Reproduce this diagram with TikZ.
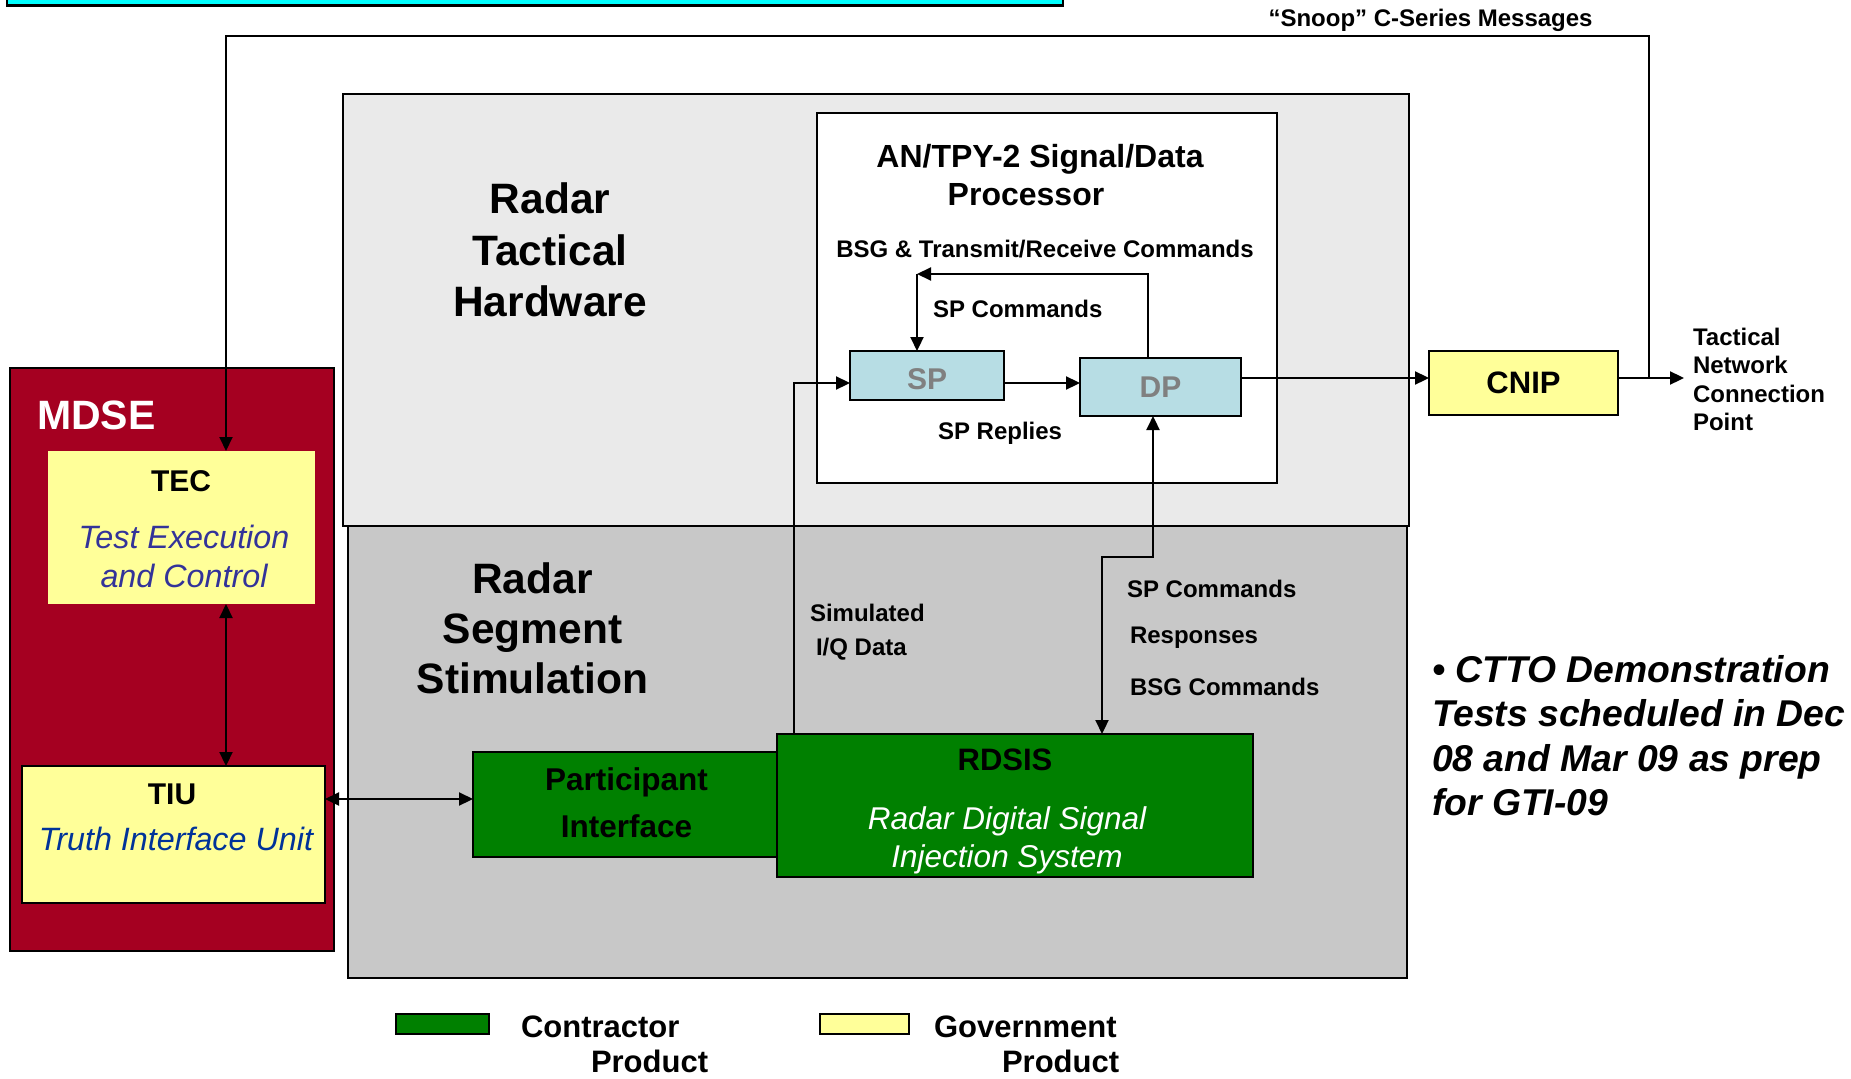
\documentclass[tikz,border=0pt]{standalone}
\usepackage{fontspec}
\setmainfont{Liberation Sans}
\usetikzlibrary{arrows.meta}
\definecolor{mdsered}{RGB}{165,0,33}
\definecolor{govyel}{RGB}{255,255,153}
\definecolor{congreen}{RGB}{0,128,0}
\definecolor{spblue}{RGB}{183,221,228}
\definecolor{hwgray}{RGB}{234,234,234}
\definecolor{hatchgray}{RGB}{200,200,200}
\definecolor{tecblue}{RGB}{51,51,153}
\definecolor{tiublue}{RGB}{0,51,153}
\definecolor{spgray}{RGB}{128,128,128}
\definecolor{barcyan}{RGB}{0,255,255}
\newcommand\fsz[2]{\fontsize{#1}{#2}\selectfont}
\begin{document}
\begin{tikzpicture}[x=1pt,y=-1pt,
  box/.style={draw=black, line width=2.2pt, inner sep=0pt, outer sep=0pt, anchor=north west},
  nobox/.style={inner sep=0pt, outer sep=0pt, anchor=north west},
  txt/.style={inner sep=0pt, outer sep=0pt},
  lbl/.style={txt, font=\fsz{24}{28.5}\bfseries},
  tipA/.tip={Triangle[length=14pt,width=13pt]},
  arr/.style={line width=2.2pt, -tipA},
  darr/.style={line width=2.2pt, tipA-tipA},
  thin/.style={line width=2pt}
]
\useasboundingbox (0,0) rectangle (1851,1078);

% top cyan bar
\draw[line width=2.5pt, fill=barcyan] (7,-10) rectangle (1063,5.5);

% big boxes
\node[box, fill=hatchgray, line width=2pt, minimum width=1059pt, minimum height=452pt] (rss) at (348,526) {};
\node[box, fill=hwgray, line width=2pt, minimum width=1066pt, minimum height=432pt] (rth) at (343,94) {};
\node[box, fill=white, line width=2pt, minimum width=460pt, minimum height=370pt] (proc) at (817,113) {};

% MDSE
\node[box, fill=mdsered, line width=2pt, minimum width=324pt, minimum height=583pt] (mdse) at (10,368) {};
\node[nobox, fill=govyel, minimum width=267pt, minimum height=153pt] (tec) at (48,451) {};
\node[box, fill=govyel, minimum width=303pt, minimum height=137pt] (tiu) at (22,766) {};

% green boxes
\node[box, fill=congreen, minimum width=304pt, minimum height=105pt] (pi) at (473,752) {};
\node[box, fill=congreen, minimum width=476pt, minimum height=143pt] (rdsis) at (777,734) {};

% SP, DP, CNIP
\node[box, fill=spblue, minimum width=154pt, minimum height=49pt] (sp) at (850,351) {};
\node[txt, anchor=base, font=\fsz{30}{36}\bfseries, text=spgray] (sptxt) at (927,389) {SP};
\node[box, fill=spblue, minimum width=161pt, minimum height=58pt,
      font=\fsz{30}{36}\bfseries, text=spgray] (dp) at (1080,358) {DP};
\node[box, fill=govyel, minimum width=189pt, minimum height=64pt,
      font=\fsz{31}{36}\bfseries] (cnip) at (1429,351) {CNIP};

% legend boxes
\node[box, fill=congreen, line width=2pt, minimum width=93pt, minimum height=20pt] (legc) at (396,1014) {};
\node[box, fill=govyel, line width=2pt, minimum width=89pt, minimum height=20pt] (legg) at (820,1014) {};

% coordinates
\coordinate (jct) at (1649,378);
\coordinate (loopR) at (1649,36);
\coordinate (loopL) at (226,36);
\coordinate (tncpin) at (1684,378);
\coordinate (spy) at (0,383);
\coordinate (simx) at (794,383);
\coordinate (cmdR) at (1148,274);
\coordinate (cmdL) at (917,274);
\coordinate (rL) at (1102,557);
\coordinate (rR) at (1153,557);
\coordinate (ttx) at (226,0);
\coordinate (tpy) at (0,799);

% connectors
\draw[arr, thin] (jct) -- (loopR) -- (loopL) -- (tec.north -| loopL);
\draw[arr] (cnip.east |- jct) -- (tncpin);
\draw[arr] (dp.east |- jct) -- (cnip.west |- jct);
\draw[arr] (sp.east |- spy) -- (dp.west |- spy);
\draw[arr] (rdsis.north -| simx) -- (simx) -- (sp.west |- simx);
\draw[arr] (dp.north -| cmdR) -- (cmdR) -- (cmdL);
\draw[arr] (cmdL) -- (sp.north -| cmdL);
\draw[darr] (rdsis.north -| rL) -- (rL) -- (rR) -- (dp.south -| rR);
\draw[darr] (tec.south -| ttx) -- (tiu.north -| ttx);
\draw[darr] (tiu.east |- tpy) -- (pi.west |- tpy);

% texts
\node[lbl, anchor=base west] (snoop) at (1268.5,27) {“Snoop” C-Series Messages};
\node[txt, anchor=north, align=center, font=\fsz{42.5}{51.5}\bfseries] (rthlbl) at (550,183) {Radar\\Tactical\\Hardware};
\node[txt, anchor=north, align=center, font=\fsz{32}{38}\bfseries] (proclbl) at (1040,144.5) {AN/TPY-2 Signal/Data\\Processor\hspace*{28pt}};
\node[lbl, anchor=base] (bsg) at (1045,257) {BSG \& Transmit/Receive Commands};
\node[lbl, anchor=base west] (spcmd) at (933,317) {SP Commands};
\node[lbl, anchor=base west] (sprep) at (938,439) {SP Replies};
\node[lbl, anchor=north west, align=left] (tncp) at (1693,328) {Tactical\\Network\\Connection\\Point};

\node[txt, anchor=base west, text=white, font=\fsz{41}{48}\bfseries] (mdselbl) at (37,429) {MDSE};
\node[txt, anchor=base, font=\fsz{30}{36}\bfseries] (teclbl) at (181,491) {TEC};
\node[txt, anchor=north, align=center, text=tecblue, font=\fsz{32.3}{39}\itshape] (tecsub) at (184,525) {Test Execution\\and Control};
\node[txt, anchor=base, font=\fsz{30}{36}\bfseries] (tiulbl) at (172,804) {TIU};
\node[txt, anchor=base, text=tiublue, font=\fsz{32.3}{38}\itshape] (tiusub) at (176,850) {Truth Interface Unit};

\node[txt, anchor=north, align=center, font=\fsz{42.5}{50}\bfseries] (rsslbl) at (532.5,563) {Radar\\Segment\\Stimulation};
\node[lbl, anchor=north west, align=left, font=\fsz{24}{34}\bfseries] (simiq) at (810,604) {Simulated\\\hspace*{6pt}I/Q Data};
\node[lbl, anchor=base west] (spc2) at (1127,597) {SP Commands};
\node[lbl, anchor=base west] (resp) at (1130,643) {Responses};
\node[lbl, anchor=base west] (bsgc) at (1130,695) {BSG Commands};

\node[txt, anchor=base, font=\fsz{31}{36}\bfseries] (rdsislbl) at (1005,770) {RDSIS};
\node[txt, anchor=north, align=center, text=white, font=\fsz{31.5}{38}\itshape] (rdsissub) at (1007,807) {Radar Digital Signal\\Injection System};
\node[txt, anchor=north, align=center, font=\fsz{31.5}{47}\bfseries] (pilbl) at (626.5,768) {Participant\\Interface};

\node[txt, anchor=north west, align=left, font=\fsz{37.3}{44.5}\bfseries\itshape] (bullet) at (1432,655) {• CTTO Demonstration\\Tests scheduled in Dec\\08 and Mar 09 as prep\\for GTI-09};

\node[txt, anchor=north west, align=left, font=\fsz{31}{35}\bfseries] (legctxt) at (521,1016) {Contractor\\\hspace*{70pt}Product};
\node[txt, anchor=north west, align=left, font=\fsz{31}{35}\bfseries] (leggtxt) at (934,1016) {Government\\\hspace*{68pt}Product};
\end{tikzpicture}
\end{document}
